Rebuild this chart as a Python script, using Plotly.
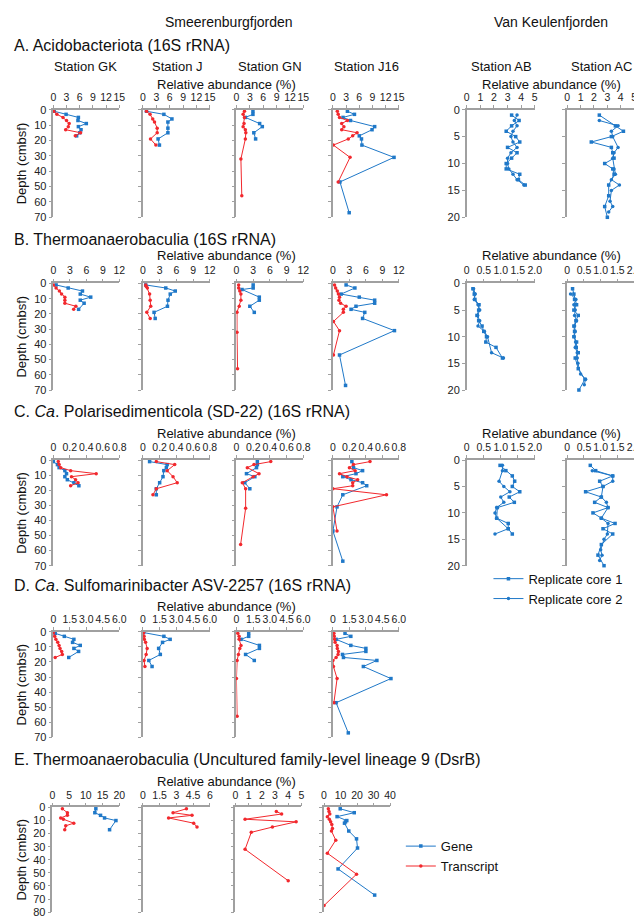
import plotly.graph_objects as go

W, H = 642, 917
BLUE = '#1F78C8'
RED = '#F2282D'
AXC = '#A0A0A0'
FONT = 'Liberation Sans, Arial, sans-serif'

# ---------------- DATA (depth in cmbsf, value in % relative abundance) ----------------
# Row A: Acidobacteriota (16S rRNA)
A_GK_gene_d = [1, 3, 5, 7, 9, 11, 13, 15, 17]
A_GK_gene_v = [0.2, 2.9, 5.7, 5.6, 7.5, 5.7, 6.3, 6.0, 5.3]
A_GK_tx_d = [1, 3, 5, 7, 9, 11, 13, 15, 17]
A_GK_tx_v = [0.1, 0.8, 2.2, 3.0, 3.6, 3.4, 2.8, 6.2, 5.0]
A_J_gene_d = [1, 3, 6, 8, 12, 15, 19, 23]
A_J_gene_v = [0.8, 4.7, 6.5, 5.6, 5.6, 5.6, 3.4, 3.7]
A_J_tx_d = [1, 3, 6, 8, 12, 15, 19, 23]
A_J_tx_v = [0.8, 1.6, 2.2, 2.6, 3.2, 3.2, 1.7, 2.9]
A_GN_gene_d = [1, 3, 5, 9, 11, 15, 19]
A_GN_gene_v = [3.7, 3.7, 2.0, 5.2, 5.8, 3.9, 4.3]
A_GN_tx_d = [1, 3, 5, 9, 11, 13, 15, 19, 32, 56]
A_GN_tx_v = [1.8, 1.5, 1.8, 1.7, 1.5, 2.0, 2.1, 2.0, 1.0, 1.2]
A_J16_gene_d = [1, 3, 5, 7, 11, 13, 17, 19, 23, 31, 47, 67]
A_J16_gene_v = [3.3, 4.9, 2.3, 4.0, 9.5, 8.9, 6.0, 6.5, 6.6, 13.9, 1.6, 3.7]
A_J16_tx_d = [1, 3, 5, 7, 9, 11, 13, 15, 17, 19, 23, 31, 47]
A_J16_tx_v = [1.0, 1.2, 1.5, 3.3, 2.0, 2.5, 2.0, 5.5, 4.5, 3.5, 0.1, 3.9, 1.2]
A_AB_c1_d = [1, 2, 3, 4, 5, 6, 7, 8, 9, 10, 11, 12, 13, 14]
A_AB_c1_v = [3.3, 3.85, 3.3, 2.9, 3.6, 3.9, 3.0, 3.7, 3.3, 2.9, 2.9, 3.9, 3.8, 4.3]
A_AB_c2_d = [1, 2, 3, 4, 5, 6, 7, 8, 9, 10, 11, 12, 13, 14]
A_AB_c2_v = [3.7, 3.5, 3.7, 3.4, 3.25, 3.4, 3.7, 3.25, 3.0, 3.0, 3.1, 3.4, 3.7, 4.2]
A_AC_c1_d = [1, 3, 4, 5, 6, 7, 8, 9, 10, 11, 12, 14, 16, 18, 20]
A_AC_c1_v = [2.4, 3.6, 4.2, 3.3, 1.8, 3.3, 3.4, 3.5, 2.8, 3.4, 3.5, 3.1, 3.1, 2.8, 3.0]
A_AC_c2_d = [2, 3, 4, 5, 7, 8, 9, 11, 12, 13, 14, 15, 17, 18, 19]
A_AC_c2_v = [2.4, 3.8, 3.3, 3.4, 3.8, 3.5, 3.4, 3.5, 3.6, 3.3, 3.9, 3.3, 3.2, 3.4, 3.1]

# Row B: Thermoanaerobaculia (16S rRNA)
B_GK_gene_d = [1, 3, 5, 7, 9, 11, 13, 17]
B_GK_gene_v = [0.5, 2.7, 5.3, 4.9, 6.8, 4.9, 5.6, 4.6]
B_GK_tx_d = [1, 3, 5, 7, 9, 11, 13, 15, 17]
B_GK_tx_v = [0.0, 0.5, 1.1, 1.5, 2.1, 2.1, 2.1, 4.1, 3.7]
B_J_gene_d = [1, 3, 5, 7, 11, 15, 19, 23]
B_J_gene_v = [0.5, 4.1, 5.8, 4.9, 4.5, 4.4, 2.0, 2.2]
B_J_tx_d = [1, 2, 3, 7, 11, 15, 19, 23]
B_J_tx_v = [0.5, 0.6, 0.8, 1.2, 1.3, 1.4, 0.7, 1.3]
B_GN_gene_d = [1, 3, 4, 9, 11, 15, 19]
B_GN_gene_v = [3.0, 3.0, 1.0, 4.1, 4.1, 2.4, 3.2]
B_GN_tx_d = [1, 3, 5, 7, 11, 15, 19, 32, 56]
B_GN_tx_v = [0.4, 0.4, 0.6, 0.8, 0.8, 0.5, 0.1, 0.1, 0.2]
B_J16_gene_d = [1, 3, 7, 9, 11, 13, 15, 17, 19, 23, 31, 47, 67]
B_J16_gene_v = [2.4, 4.0, 1.5, 4.8, 7.6, 7.6, 4.2, 3.3, 5.8, 5.4, 11.2, 1.2, 2.3]
B_J16_tx_d = [1, 3, 5, 7, 9, 11, 13, 15, 17, 19, 25, 31, 47]
B_J16_tx_v = [0.3, 0.5, 0.8, 1.0, 1.2, 1.1, 1.4, 2.4, 1.9, 1.9, 0.1, 1.2, 0.1]
B_AB_c1_d = [1, 2, 3, 4, 5, 6, 7, 8, 9, 10, 11, 12, 14]
B_AB_c1_v = [0.18, 0.22, 0.24, 0.36, 0.35, 0.30, 0.35, 0.45, 0.50, 0.58, 0.56, 0.86, 1.05]
B_AB_c2_d = [1, 2, 3, 4, 5, 6, 7, 8, 9, 10, 13, 14]
B_AB_c2_v = [0.20, 0.25, 0.22, 0.33, 0.38, 0.32, 0.38, 0.33, 0.52, 0.61, 0.73, 1.08]
B_AC_c1_d = [1, 2, 3, 4, 5, 6, 7, 8, 9, 10, 11, 12, 13, 14, 16, 18, 20]
B_AC_c1_v = [0.16, 0.2, 0.22, 0.28, 0.2, 0.33, 0.26, 0.2, 0.22, 0.2, 0.28, 0.27, 0.33, 0.24, 0.33, 0.53, 0.35]
B_AC_c2_d = [2, 3, 4, 5, 6, 7, 8, 9, 10, 11, 12, 13, 14, 15, 17, 18, 19]
B_AC_c2_v = [0.1, 0.26, 0.2, 0.24, 0.22, 0.28, 0.22, 0.24, 0.21, 0.25, 0.24, 0.3, 0.3, 0.32, 0.4, 0.55, 0.51]

# Row C: Ca. Polarisedimenticola (SD-22) (16S rRNA)
C_GK_gene_d = [1, 3, 5, 7, 9, 11, 13, 15, 17]
C_GK_gene_v = [0.0, 0.05, 0.07, 0.14, 0.16, 0.14, 0.17, 0.25, 0.31]
C_GK_tx_d = [1, 3, 5, 7, 9, 11, 13, 15, 17]
C_GK_tx_v = [0.06, 0.07, 0.09, 0.21, 0.52, 0.22, 0.27, 0.30, 0.21]
C_J_gene_d = [1, 3, 5, 7, 11, 15, 19, 23]
C_J_gene_v = [0.08, 0.29, 0.28, 0.25, 0.24, 0.20, 0.16, 0.16]
C_J_tx_d = [1, 3, 7, 11, 15, 19, 23]
C_J_tx_v = [0.16, 0.38, 0.29, 0.36, 0.41, 0.16, 0.12]
C_GN_gene_d = [1, 3, 5, 9, 11, 15, 19]
C_GN_gene_v = [0.25, 0.25, 0.24, 0.12, 0.22, 0.10, 0.16]
C_GN_tx_d = [1, 3, 5, 9, 11, 15, 19, 32, 56]
C_GN_tx_v = [0.41, 0.21, 0.13, 0.27, 0.20, 0.07, 0.11, 0.11, 0.05]
C_J16_gene_d = [1, 5, 7, 9, 11, 13, 15, 17, 23, 31, 47, 67]
C_J16_gene_v = [0.23, 0.25, 0.36, 0.28, 0.12, 0.22, 0.36, 0.41, 0.12, 0.05, 0.0, 0.12]
C_J16_tx_d = [1, 3, 5, 7, 9, 11, 13, 15, 17, 19, 23, 31, 47]
C_J16_tx_v = [0.45, 0.25, 0.2, 0.27, 0.08, 0.17, 0.3, 0.24, 0.24, 0.0, 0.65, 0.0, 0.05]
C_AB_c1_d = [1, 2, 3, 4, 5, 6, 7, 8, 9, 11, 12, 13, 14]
C_AB_c1_v = [0.98, 1.15, 1.34, 1.41, 1.34, 1.56, 1.25, 1.40, 0.90, 0.88, 1.22, 1.22, 1.34]
C_AB_c2_d = [1, 2, 4, 5, 6, 7, 8, 9, 10, 11, 13, 14]
C_AB_c2_v = [1.05, 1.05, 0.95, 1.09, 1.27, 1.0, 1.09, 0.88, 0.83, 0.88, 1.22, 0.83]
C_AC_c1_d = [1, 2, 3, 4, 5, 6, 7, 8, 9, 10, 11, 12, 13, 14, 16, 18, 20]
C_AC_c1_v = [0.69, 0.85, 1.36, 0.97, 1.07, 0.55, 1.02, 0.82, 1.22, 0.77, 1.02, 1.43, 1.07, 1.36, 1.02, 0.92, 1.1]
C_AC_c2_d = [2, 3, 4, 5, 7, 8, 9, 11, 12, 14, 15, 17, 18, 19]
C_AC_c2_v = [0.75, 1.36, 1.36, 1.07, 1.02, 1.17, 1.22, 1.02, 1.22, 1.20, 1.1, 1.0, 1.04, 0.97]

# Row D: Ca. Sulfomarinibacter ASV-2257 (16S rRNA)
D_GK_gene_d = [1, 3, 5, 7, 9, 11, 13, 17]
D_GK_gene_v = [0.17, 1.0, 1.87, 1.75, 2.45, 1.87, 2.3, 1.4]
D_GK_tx_d = [0.5, 3, 5, 7, 9, 11, 13, 15, 17]
D_GK_tx_v = [0.0, 0.12, 0.23, 0.4, 0.52, 0.61, 0.76, 0.82, 0.17]
D_J_gene_d = [0.5, 3, 5, 7, 11, 15, 19, 23]
D_J_gene_v = [0.06, 1.88, 2.44, 1.76, 1.41, 1.56, 0.53, 0.82]
D_J_tx_d = [0.5, 3, 5, 7, 11, 15, 19, 23]
D_J_tx_v = [0.06, 0.1, 0.12, 0.24, 0.38, 0.29, 0.1, 0.18]
D_GN_gene_d = [1, 3, 5, 9, 11, 15, 19]
D_GN_gene_v = [1.1, 1.1, 0.41, 2.06, 2.06, 0.82, 1.6]
D_GN_tx_d = [1, 3, 5, 9, 11, 15, 19, 31, 56]
D_GN_tx_v = [0.12, 0.24, 0.24, 0.41, 0.3, 0.18, 0.06, 0.0, 0.06]
D_J16_gene_d = [1, 3, 5, 9, 11, 13, 15, 17, 19, 23, 31, 47, 67]
D_J16_gene_v = [1.1, 1.63, 0.29, 1.63, 3.0, 3.0, 0.87, 0.96, 4.0, 2.77, 5.28, 0.29, 1.4]
D_J16_tx_d = [1, 3, 5, 7, 9, 11, 13, 15, 17, 19, 23, 31, 47]
D_J16_tx_v = [0.09, 0.12, 0.15, 0.2, 0.38, 0.4, 0.5, 0.47, 0.29, 0.0, 0.05, 0.38, 0.09]

# Row E: Thermoanaerobaculia (Uncultured family-level lineage 9) (DsrB)
E_GK_gene_d = [1, 4, 6, 8, 10, 17]
E_GK_gene_v = [13.0, 12.7, 14.4, 15.6, 19.0, 17.1]
E_GK_tx_d = [1, 4, 6, 8, 9, 12, 14, 17]
E_GK_tx_v = [3.0, 4.5, 4.5, 2.5, 3.3, 6.4, 4.0, 3.7]
E_J_tx_d = [1, 4, 6, 8, 12, 15]
E_J_tx_v = [3.9, 2.7, 4.4, 2.3, 4.55, 4.85]
E_GN_tx_d = [3, 5, 9, 11, 15, 19, 32, 56]
E_GN_tx_v = [3.1, 3.5, 0.73, 4.6, 2.8, 1.2, 0.73, 4.0]
E_J16_gene_d = [1, 4, 7, 10, 11, 12, 18, 24, 31, 47, 67]
E_J16_gene_v = [9.8, 18.3, 7.9, 13.8, 13.0, 12.4, 15.0, 19.7, 20.3, 8.5, 30.7]
E_J16_tx_d = [1, 3, 5, 7, 9, 11, 13, 16, 18, 25, 35, 51, 75]
E_J16_tx_v = [2.6, 3.0, 3.5, 2.0, 3.2, 4.0, 4.7, 5.1, 4.5, 7.1, 2.0, 19.7, 0.0]

# Tick labels
T_A = ['0', '3', '6', '9', '12', '15']
T_B = ['0', '3', '6', '9', '12']
T_C = ['0', '0.2', '0.4', '0.6', '0.8']
T_D = ['0', '1.5', '3.0', '4.5', '6.0']
T_VK_A = ['0', '1', '2', '3', '4', '5']
T_VK_BC = ['0', '0.5', '1.0', '1.5', '2.0']
T_E_GK = ['0', '5', '10', '15', '20']
T_E_J = ['0', '1.5', '3', '4.5', '6']
T_E_GN = ['0', '1', '2', '3', '4', '5']
T_E_J16 = ['0', '10', '20', '30', '40']

STATIONS = ['Station GK', 'Station J', 'Station GN', 'Station J16', 'Station AB', 'Station AC']
SECTION_TITLES = [
    'A. Acidobacteriota (16S rRNA)',
    'B. Thermoanaerobaculia (16S rRNA)',
    'C. <i>Ca</i>. Polarisedimenticola (SD-22) (16S rRNA)',
    'D. <i>Ca</i>. Sulfomarinibacter ASV-2257 (16S rRNA)',
    'E. Thermoanaerobaculia (Uncultured family-level lineage 9 (DsrB)',
]

# ---------------- LAYOUT GEOMETRY (pixels) ----------------
ROW_Y = {'A': (97, 206), 'B': (273, 381), 'C': (452, 559), 'D': (626, 733), 'E': (804, 910)}
COL_X = {'GK': (43, 110), 'J': (134, 202), 'GN': (229, 297), 'J16': (327, 394),
         'AB': (463, 532), 'AC': (565, 633)}
COL_X_E = {'GK': (42, 110), 'J': (134, 202), 'GN': (228, 295), 'J16': (318, 385)}

fig = go.Figure()
layout_axes = {}
counter = [0]


def fx(p):
    return p / W


def fy(p):
    return 1 - p / H


def add_axes(xpx, ypx, ticktext, ymax, ystep, ylabels):
    counter[0] += 1
    i = counter[0]
    sfx = '' if i == 1 else str(i)
    tv = [float(t) for t in ticktext]
    layout_axes['xaxis' + sfx] = dict(
        domain=[fx(xpx[0]), fx(xpx[1])], range=[0, tv[-1]], side='top',
        anchor='y' + sfx, tickvals=tv, ticktext=ticktext, ticks='outside',
        ticklen=3, tickwidth=1, tickcolor=AXC, showline=True, linecolor=AXC,
        linewidth=1.5, showgrid=False, zeroline=False, tickangle=0,
        ticklabeloverflow='allow',
        tickfont=dict(size=10.5, color='#222', family=FONT), fixedrange=True)
    layout_axes['yaxis' + sfx] = dict(
        domain=[fy(ypx[1]), fy(ypx[0])], range=[ymax, 0], anchor='x' + sfx,
        tickvals=list(range(0, ymax + 1, ystep)), ticks='outside', ticklen=3,
        tickwidth=1, tickcolor=AXC, showline=True, linecolor=AXC, linewidth=1.5,
        showgrid=False, zeroline=False, showticklabels=ylabels, tickangle=0,
        ticklabeloverflow='allow',
        tickfont=dict(size=11, color='#222', family=FONT), fixedrange=True)
    return 'x' + sfx, 'y' + sfx


def add_series(xa, ya, d, v, color, symbol, name=None, legend=None):
    fig.add_trace(go.Scatter(
        x=v, y=d, mode='lines+markers', xaxis=xa, yaxis=ya,
        line=dict(color=color, width=1),
        marker=dict(color=color, size=3.5, symbol=symbol),
        name=name or '', showlegend=name is not None,
        legend=legend or 'legend', cliponaxis=False, hoverinfo='x+y'))


# Smeerenburgfjorden panels (gene = blue, transcript = red)
smeer = [
    ('A', 'GK', T_A, A_GK_gene_d, A_GK_gene_v, A_GK_tx_d, A_GK_tx_v),
    ('A', 'J', T_A, A_J_gene_d, A_J_gene_v, A_J_tx_d, A_J_tx_v),
    ('A', 'GN', T_A, A_GN_gene_d, A_GN_gene_v, A_GN_tx_d, A_GN_tx_v),
    ('A', 'J16', T_A, A_J16_gene_d, A_J16_gene_v, A_J16_tx_d, A_J16_tx_v),
    ('B', 'GK', T_B, B_GK_gene_d, B_GK_gene_v, B_GK_tx_d, B_GK_tx_v),
    ('B', 'J', T_B, B_J_gene_d, B_J_gene_v, B_J_tx_d, B_J_tx_v),
    ('B', 'GN', T_B, B_GN_gene_d, B_GN_gene_v, B_GN_tx_d, B_GN_tx_v),
    ('B', 'J16', T_B, B_J16_gene_d, B_J16_gene_v, B_J16_tx_d, B_J16_tx_v),
    ('C', 'GK', T_C, C_GK_gene_d, C_GK_gene_v, C_GK_tx_d, C_GK_tx_v),
    ('C', 'J', T_C, C_J_gene_d, C_J_gene_v, C_J_tx_d, C_J_tx_v),
    ('C', 'GN', T_C, C_GN_gene_d, C_GN_gene_v, C_GN_tx_d, C_GN_tx_v),
    ('C', 'J16', T_C, C_J16_gene_d, C_J16_gene_v, C_J16_tx_d, C_J16_tx_v),
    ('D', 'GK', T_D, D_GK_gene_d, D_GK_gene_v, D_GK_tx_d, D_GK_tx_v),
    ('D', 'J', T_D, D_J_gene_d, D_J_gene_v, D_J_tx_d, D_J_tx_v),
    ('D', 'GN', T_D, D_GN_gene_d, D_GN_gene_v, D_GN_tx_d, D_GN_tx_v),
    ('D', 'J16', T_D, D_J16_gene_d, D_J16_gene_v, D_J16_tx_d, D_J16_tx_v),
    ('E', 'GK', T_E_GK, E_GK_gene_d, E_GK_gene_v, E_GK_tx_d, E_GK_tx_v),
    ('E', 'J', T_E_J, None, None, E_J_tx_d, E_J_tx_v),
    ('E', 'GN', T_E_GN, None, None, E_GN_tx_d, E_GN_tx_v),
    ('E', 'J16', T_E_J16, E_J16_gene_d, E_J16_gene_v, E_J16_tx_d, E_J16_tx_v),
]

for row, st, tt, gd, gv, td, tvv in smeer:
    xpx = COL_X_E[st] if row == 'E' else COL_X[st]
    ymax = 80 if row == 'E' else 70
    xa, ya = add_axes(xpx, ROW_Y[row], tt, ymax, 10, st == 'GK')
    first = (row == 'E' and st == 'GK')
    if gd is not None:
        add_series(xa, ya, gd, gv, BLUE, 'square', 'Gene' if first else None, 'legend2')
    add_series(xa, ya, td, tvv, RED, 'circle', 'Transcript' if first else None, 'legend2')

# Van Keulenfjorden panels (replicate cores)
vk = [
    ('A', 'AB', T_VK_A, A_AB_c1_d, A_AB_c1_v, A_AB_c2_d, A_AB_c2_v),
    ('A', 'AC', T_VK_A, A_AC_c1_d, A_AC_c1_v, A_AC_c2_d, A_AC_c2_v),
    ('B', 'AB', T_VK_BC, B_AB_c1_d, B_AB_c1_v, B_AB_c2_d, B_AB_c2_v),
    ('B', 'AC', T_VK_BC, B_AC_c1_d, B_AC_c1_v, B_AC_c2_d, B_AC_c2_v),
    ('C', 'AB', T_VK_BC, C_AB_c1_d, C_AB_c1_v, C_AB_c2_d, C_AB_c2_v),
    ('C', 'AC', T_VK_BC, C_AC_c1_d, C_AC_c1_v, C_AC_c2_d, C_AC_c2_v),
]
for row, st, tt, d1, v1, d2, v2 in vk:
    xa, ya = add_axes(COL_X[st], ROW_Y[row], tt, 20, 5, st == 'AB')
    first = (row == 'A' and st == 'AB')
    add_series(xa, ya, d1, v1, BLUE, 'square', 'Replicate core 1' if first else None, 'legend')
    add_series(xa, ya, d2, v2, BLUE, 'circle', 'Replicate core 2' if first else None, 'legend')

# ---------------- Annotations ----------------
ann = []


def text(x, y, s, size, xanchor='center', angle=0):
    ann.append(dict(x=fx(x), y=fy(y), xref='paper', yref='paper', text=s,
                    showarrow=False, xanchor=xanchor, yanchor='middle',
                    textangle=angle, font=dict(size=size, color='#111', family=FONT)))


text(221, 8, 'Smeerenburgfjorden', 14)
text(549, 8, 'Van Keulenfjorden', 14)
sec_y = [32, 228, 403, 579, 755]
for s, y in zip(SECTION_TITLES, sec_y):
    text(1, y, s, 16, xanchor='left')
station_x = [76, 169, 263, 361, 498, 600]
for s, x in zip(STATIONS, station_x):
    text(x, 53, s, 13)
for y in [71, 245, 425, 600, 778]:
    text(219, y, 'Relative abundance (%)', 13)
for y in [71, 245, 425]:
    text(549, y, 'Relative abundance (%)', 13)
for r in ['A', 'B', 'C', 'D', 'E']:
    y0, y1 = ROW_Y[r]
    text(11, (y0 + y1) / 2, 'Depth (cmbsf)', 13, angle=-90)

fig.update_layout(
    width=W, height=H, margin=dict(l=0, r=0, t=0, b=0),
    paper_bgcolor='white', plot_bgcolor='white',
    font=dict(family=FONT, size=12, color='#111'),
    annotations=ann,
    legend=dict(x=fx(485), y=fy(557), xanchor='left', yanchor='top',
                bgcolor='rgba(0,0,0,0)', font=dict(size=13, family=FONT, color='#111'),
                itemwidth=30, tracegroupgap=0),
    legend2=dict(x=fx(396), y=fy(828), xanchor='left', yanchor='top',
                 bgcolor='rgba(0,0,0,0)', font=dict(size=13, family=FONT, color='#111'),
                 itemwidth=30, tracegroupgap=0),
    **layout_axes,
)

fig.write_html('out.html')
